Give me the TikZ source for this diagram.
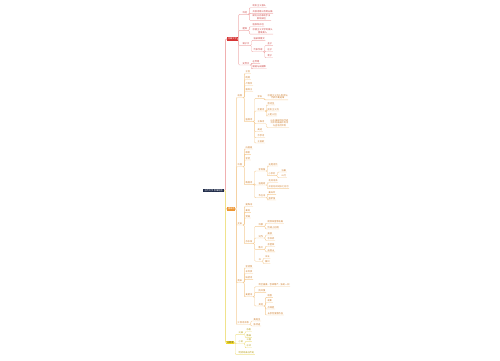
\documentclass[tikz,border=0pt]{standalone}
\usepackage{fontspec}
\usepackage{xcolor}
\usepackage{tikz}
\newfontfamily\cjk{Noto Sans CJK SC}
\newcommand{\mmfont}{\cjk\fontsize{2.2}{2.8}\selectfont}
\definecolor{rootnavy}{RGB}{30,42,72}
\definecolor{mmred}{RGB}{214,52,52}
\definecolor{mmredtxt}{RGB}{200,60,60}
\definecolor{mmredln}{RGB}{240,176,176}
\definecolor{mmorange}{RGB}{238,150,50}
\definecolor{mmortxt}{RGB}{205,125,45}
\definecolor{mmorln}{RGB}{244,204,150}
\definecolor{mmyellow}{RGB}{246,220,30}
\definecolor{mmyltxt}{RGB}{180,155,20}
\definecolor{mmylln}{RGB}{240,226,140}
\tikzset{
  rootbox/.style={
    rectangle,
    fill=rootnavy,
    text=white,
    inner xsep=1.2pt,
    inner ysep=0.9pt,
    font=\mmfont
  },
  redbox/.style={
    rectangle,
    anchor=west,
    fill=mmred,
    text=white,
    inner xsep=0.8pt,
    inner ysep=0.7pt,
    font=\mmfont
  },
  orbox/.style={redbox, fill=mmorange},
  ylbox/.style={redbox, fill=mmyellow, text=black!70},
  redtxt/.style={
    anchor=west,
    inner sep=0.5pt,
    align=center,
    text=mmredtxt,
    font=\mmfont
  },
  ortxt/.style={redtxt, text=mmortxt},
  yltxt/.style={redtxt, text=mmyltxt},
  redln/.style={draw=mmredln, line width=0.4pt, rounded corners=1pt},
  orln/.style={redln, draw=mmorln},
  ylln/.style={redln, draw=mmylln}
}

\begin{document}
\begin{tikzpicture}[x=1pt, y=-1pt]
\useasboundingbox (0,0) rectangle (500,360);
\node[rootbox, anchor=east] (root) at (224,190.5) {古代文学 思维导图};

% 先秦
\node[redbox] (xq) at (227,39) {先秦文学};
\node[redtxt] (xq1) at (242,12.7) {诗经};
\node[redtxt] (xq2) at (242,28.7) {楚辞};
\node[redtxt] (xq3) at (242,43.7) {诸子文};
\node[redtxt] (xq4) at (242,63.3) {史传文};
\node[redtxt] (xq1a) at (252,6) {现实主义源头};
\node[redtxt] (xq1b) at (252,11.7) {共收诗歌三百零五篇};
\node[redtxt] (xq1c) at (252,17.3) {赋比兴的表现手法\\影响深远};
\node[redtxt] (xq2a) at (252,25) {屈原所开创};
\node[redtxt] (xq2b) at (252,31) {浪漫主义文学的源头\\香草美人};
\node[redtxt] (xq3a) at (253,38.7) {语录体散文};
\node[redtxt] (xq3b) at (253,50) {代表作家};
\node[redtxt] (xq3b1) at (267,43.7) {孟子};
\node[redtxt] (xq3b2) at (267,50) {庄子};
\node[redtxt] (xq3b3) at (267,56) {荀子};
\node[redtxt] (xq4a) at (252,61.7) {左传等};
\node[redtxt] (xq4b) at (252,67) {国语与战国策};

% 唐宋
\node[orbox] (ts) at (227,209) {唐宋诗};
\node[ortxt] (ts1) at (237,96) {初唐};
\node[ortxt] (ts2) at (237,165) {中唐};
\node[ortxt] (ts3) at (237,223.3) {北宋};
\node[ortxt] (ts4) at (237,281) {南宋};
\node[ortxt] (ts5) at (237,322.5) {江西诗派等};
\node[ortxt] (ts1a) at (245,72) {王勃};
\node[ortxt] (ts1b) at (245,78) {杨炯};
\node[ortxt] (ts1c) at (245,84) {卢照邻};
\node[ortxt] (ts1d) at (245,90) {骆宾王};
\node[ortxt] (ts1e) at (245,119.7) {盛唐诗};
\node[ortxt] (ts1e1) at (257,96.7) {李白};
\node[ortxt] (ts1e1a) at (267,96.7) {浪漫主义诗人称诗仙\\代表作蜀道难};
\node[ortxt] (ts1e2) at (257,109.3) {杜甫诗};
\node[ortxt] (ts1e2a) at (267,103.3) {称诗圣};
\node[ortxt] (ts1e2b) at (267,109.3) {现实主义诗};
\node[ortxt] (ts1e2c) at (267,114.3) {三吏三别};
\node[ortxt] (ts1e3) at (257,122) {王维诗};
\node[ortxt] (ts1e3a) at (270,123) {山水田园诗派代表\\诗中有画画中有诗\\与孟浩然并称};
\node[ortxt] (ts1e4) at (257,130) {高适};
\node[ortxt] (ts1e5) at (257,136) {岑参诗};
\node[ortxt] (ts1e6) at (257,141.3) {王昌龄};
\node[ortxt] (ts2a) at (245,147.3) {白居易};
\node[ortxt] (ts2b) at (245,152.7) {韩愈};
\node[ortxt] (ts2c) at (245,158.3) {李贺};
\node[ortxt] (ts2d) at (245,182.7) {晚唐诗};
\node[ortxt] (ts2d1) at (258,169.3) {李商隐};
\node[ortxt] (ts2d1a) at (268,164.3) {无题诗作};
\node[ortxt] (ts2d1b) at (268,173.7) {小李杜};
\node[ortxt] (ts2d1b1) at (281,170.3) {泊秦};
\node[ortxt] (ts2d1b2) at (281,176) {山行};
\node[ortxt] (ts2d2) at (258,183.3) {温庭筠};
\node[ortxt] (ts2d2a) at (268,181) {花间词派};
\node[ortxt] (ts2d2b) at (268,186.7) {开创花间词派之先河};
\node[ortxt] (ts2d3) at (258,196) {韦庄词};
\node[ortxt] (ts2d3a) at (268,192.7) {秦妇吟};
\node[ortxt] (ts2d3b) at (268,198.3) {菩萨蛮};
\node[ortxt] (ts3a) at (245,205) {晏殊词};
\node[ortxt] (ts3b) at (245,210.7) {秦观};
\node[ortxt] (ts3c) at (245,216.3) {贺铸};
\node[ortxt] (ts3d) at (245,241.7) {苏东坡};
\node[ortxt] (ts3d1) at (258,224.7) {诗歌};
\node[ortxt] (ts3d1a) at (267,221.5) {题西林壁等名篇};
\node[ortxt] (ts3d1b) at (267,227.3) {饮湖上初晴};
\node[ortxt] (ts3d2) at (258,236.3) {词作};
\node[ortxt] (ts3d2a) at (267,233.3) {豪放};
\node[ortxt] (ts3d2b) at (267,238.8) {念奴娇};
\node[ortxt] (ts3d3) at (258,247.7) {散文};
\node[ortxt] (ts3d3a) at (267,244.5) {赤壁赋};
\node[ortxt] (ts3d3b) at (267,250.2) {石钟山};
\node[ortxt] (ts3d4) at (258,259.5) {书};
\node[ortxt] (ts3d4a) at (264.5,256.5) {书法};
\node[ortxt] (ts3d4b) at (264.5,262) {黄州};
\node[ortxt] (ts4a) at (245,266.3) {李清照};
\node[ortxt] (ts4b) at (245,272) {辛弃疾};
\node[ortxt] (ts4c) at (245,277.7) {陆游诗};
\node[ortxt] (ts4d) at (245,295) {姜夔词};
\node[ortxt] (ts4d1) at (258,285) {清空骚雅，音律精严，独树一帜};
\node[ortxt] (ts4d2) at (258,290.7) {扬州慢};
\node[ortxt] (ts4d3) at (258,304.3) {其他};
\node[ortxt] (ts4d3a) at (267,295.7) {暗香};
\node[ortxt] (ts4d3b) at (267,301) {疏影};
\node[ortxt] (ts4d3c) at (267,307.3) {点绛唇};
\node[ortxt] (ts4d3d) at (267,313.3) {长亭怨慢等作品};
\node[ortxt] (ts5a) at (253,319.3) {黄庭坚};
\node[ortxt] (ts5b) at (253,324.3) {陈师道};

% 元明清
\node[ylbox] (ymq) at (226,342.7) {元明清};
\node[yltxt] (ymq1) at (238,332.7) {元曲};
\node[yltxt] (ymq2) at (238,342) {小说};
\node[yltxt] (ymq3) at (238,352.7) {明清戏曲与传奇};
\node[yltxt] (ymq1a) at (246,330) {杂剧};
\node[yltxt] (ymq1b) at (246,335.7) {散曲};
\node[yltxt] (ymq2a) at (246,340) {三国};
\node[yltxt] (ymq2b) at (246,346) {水浒};

% trunk
\draw[redln, line width=0.8pt] (root.east) -- ++(1.5,0) |- (xq.west);
\draw[orln, line width=0.8pt] (root.east) -- ++(1.5,0) |- (ts.west);
\draw[ylln, line width=0.8pt] (root.east) -- ++(1.5,0) |- (ymq.west);

% 先秦 branches
\foreach \c in {xq1,xq2,xq3,xq4}
  \draw[redln] (xq.east) -- ++(0.8,0) |- (\c.south west) -- (\c.south east);
\foreach \p/\c in {xq1/xq1a,xq1/xq1b,xq1/xq1c,xq2/xq2a,xq2/xq2b,xq3/xq3a,xq3/xq3b,
    xq3b/xq3b1,xq3b/xq3b2,xq3b/xq3b3,xq4/xq4a,xq4/xq4b}
  \draw[redln] (\p.south east) -- ++(1.5,0) |- (\c.south west) -- (\c.south east);

% 唐宋 branches
\foreach \c in {ts1,ts2,ts3,ts4,ts5}
  \draw[orln] (ts.east) -- ++(0.8,0) |- (\c.south west) -- (\c.south east);
\foreach \p/\c in {ts1/ts1a,ts1/ts1b,ts1/ts1c,ts1/ts1d,ts1/ts1e,
    ts1e/ts1e1,ts1e/ts1e2,ts1e/ts1e3,ts1e/ts1e4,ts1e/ts1e5,ts1e/ts1e6,
    ts1e1/ts1e1a,ts1e2/ts1e2a,ts1e2/ts1e2b,ts1e2/ts1e2c,ts1e3/ts1e3a,
    ts2/ts2a,ts2/ts2b,ts2/ts2c,ts2/ts2d,ts2d/ts2d1,ts2d/ts2d2,ts2d/ts2d3,
    ts2d1/ts2d1a,ts2d1/ts2d1b,ts2d1b/ts2d1b1,ts2d1b/ts2d1b2,
    ts2d2/ts2d2a,ts2d2/ts2d2b,ts2d3/ts2d3a,ts2d3/ts2d3b,
    ts3/ts3a,ts3/ts3b,ts3/ts3c,ts3/ts3d,ts3d/ts3d1,ts3d/ts3d2,ts3d/ts3d3,ts3d/ts3d4,
    ts3d1/ts3d1a,ts3d1/ts3d1b,ts3d2/ts3d2a,ts3d2/ts3d2b,ts3d3/ts3d3a,ts3d3/ts3d3b,
    ts3d4/ts3d4a,ts3d4/ts3d4b,
    ts4/ts4a,ts4/ts4b,ts4/ts4c,ts4/ts4d,ts4d/ts4d1,ts4d/ts4d2,ts4d/ts4d3,
    ts4d3/ts4d3a,ts4d3/ts4d3b,ts4d3/ts4d3c,ts4d3/ts4d3d,ts5/ts5a,ts5/ts5b}
  \draw[orln] (\p.south east) -- ++(1.5,0) |- (\c.south west) -- (\c.south east);

% 元明清 branches
\foreach \c in {ymq1,ymq2,ymq3}
  \draw[ylln] (ymq.east) -- ++(0.6,0) |- (\c.south west) -- (\c.south east);
\foreach \p/\c in {ymq1/ymq1a,ymq1/ymq1b,ymq2/ymq2a,ymq2/ymq2b}
  \draw[ylln] (\p.south east) -- ++(1.2,0) |- (\c.south west) -- (\c.south east);
\end{tikzpicture}
\end{document}
